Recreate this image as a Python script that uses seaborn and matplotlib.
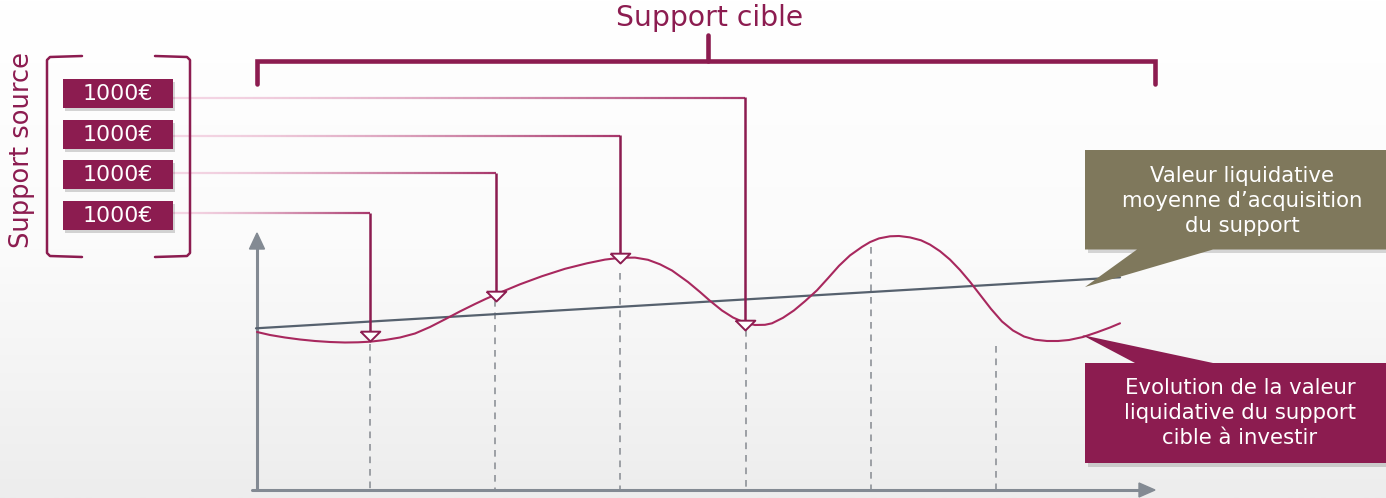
import numpy as np
import pandas as pd
import matplotlib.pyplot as plt
import seaborn as sns
from matplotlib.patches import Rectangle, Polygon
from matplotlib.collections import LineCollection
from matplotlib.colors import LinearSegmentedColormap, to_rgb

# Style
sns.set_theme(style="white")
plt.rcParams['font.family'] = ['DejaVu Sans']

MAGENTA = '#8C1C50'
OLIVE = '#7F785C'
AXIS_GREY = '#838A93'
LINE_GREY = '#56616E'

# Data (pixel space of the slide, y grows downward)
curve_x = [257, 270, 285, 300, 315, 330, 345, 358, 370, 385, 400, 415, 430, 446,
           460, 475, 486, 502, 520, 542, 565, 587, 605, 620, 635, 648, 660, 672,
           688, 700, 710, 722, 733, 745, 755, 765, 772, 783, 794, 805, 817, 828,
           839, 850, 862, 870, 879, 890, 899, 910, 921, 930, 940, 950, 960, 970,
           980, 991, 1002, 1013, 1024, 1035, 1047, 1058, 1069, 1083, 1097, 1110, 1120]
curve_y = [332, 335, 337.5, 339.5, 341, 342, 342.5, 342.3, 341.7, 340, 337.5, 333.5,
           327, 318.8, 311.4, 304, 298.8, 291.8, 284.3, 276.2, 268.8, 263.3, 259.6, 257.8,
           257.6, 259.8, 264.3, 270.5, 282, 292, 300.8, 310.5, 317.5, 322.8, 325, 324.8,
           323.3, 317.8, 310.4, 301.2, 290.3, 278.2, 265.8, 255.4, 246.9, 242.1, 238.4, 236.3,
           236, 237.4, 240.3, 244.6, 251.2, 259.6, 270, 281.8, 294.7, 308.9, 321.5, 330.5, 336.5,
           339.7, 341, 341, 340, 337, 332.3, 327.5, 323.3]
avg_x = [256, 1120]
avg_y = [328.3, 277.3]

amounts = ["1000€", "1000€", "1000€", "1000€"]
box_y = [93.5, 134.3, 174.7, 215.8]
row_y = [97.7, 135.7, 173.3, 213.3]
buy_x = [745, 620, 496, 370]
buy_y = [330, 263, 301, 341]

guide_x = [370, 495, 620, 746, 871, 996]
guide_top = [344, 300, 273, 330, 247, 346]

title_cible = "Support cible"
title_source = "Support source"
label_avg = "Valeur liquidative\nmoyenne d\u2019acquisition\ndu support"
label_curve = "Evolution de la valeur\nliquidative du support\ncible à investir"

# Figure
fig = plt.figure(figsize=(13.86, 4.98), dpi=100)
ax = fig.add_axes([0, 0, 1, 1])
ax.set_xlim(0, 1386)
ax.set_ylim(498, 0)
ax.axis('off')

# soft grey background gradient
bg = LinearSegmentedColormap.from_list('bg', ['#FFFFFF', '#FBFBFB', '#EDEDED'])
ax.imshow(np.linspace(0, 1, 256)[:, None], extent=[0, 1386, 498, 0],
          cmap=bg, aspect='auto', zorder=0)

# axes arrows
ax.plot([257, 257], [490, 248], color=AXIS_GREY, lw=2.2, zorder=2)
ax.add_patch(Polygon([[249.5, 249], [264.5, 249], [257, 233]], color=AXIS_GREY, zorder=2))
ax.plot([252, 1140], [490, 490], color=AXIS_GREY, lw=2.2, zorder=2)
ax.add_patch(Polygon([[1139, 483], [1139, 497], [1155, 490]], color=AXIS_GREY, zorder=2))

# dashed guides
ax.vlines(guide_x, guide_top, 489, colors='#8E9298', lw=1.2,
          linestyles=(0, (4, 3.5)), zorder=2)

# average acquisition value and NAV curve
df_curve = pd.DataFrame({'x': curve_x, 'y': curve_y})
df_avg = pd.DataFrame({'x': avg_x, 'y': avg_y})
sns.lineplot(data=df_avg, x='x', y='y', color=LINE_GREY, lw=1.6, ax=ax,
             sort=False, estimator=None, zorder=3)
sns.lineplot(data=df_curve, x='x', y='y', color='#A8285E', lw=1.5, ax=ax,
             sort=False, estimator=None, zorder=4, solid_joinstyle='round')
ax.set_xlim(0, 1386)
ax.set_ylim(498, 0)
ax.set_xlabel('')
ax.set_ylabel('')

# source boxes
for yc, txt in zip(box_y, amounts):
    ax.add_patch(Rectangle((65, yc - 14.5 + 3), 110, 29, color='#000000', alpha=0.16, zorder=4, lw=0))
    ax.add_patch(Rectangle((63, yc - 14.5), 110, 29, color=MAGENTA, zorder=5, lw=0))
    ax.text(118, yc + 0.5, txt, color='white', fontsize=15.8, ha='center', va='center', zorder=6)

# connector lines with a pink gradient, then vertical arrows
light = np.array(to_rgb('#F4D6E4'))
dark = np.array(to_rgb('#A8386C'))
for ry, bx, by in zip(row_y, buy_x, buy_y):
    xs = np.linspace(173, bx, 80)
    segs = [[(xs[i], ry), (xs[i + 1], ry)] for i in range(len(xs) - 1)]
    t = np.linspace(0, 1, len(segs)) ** 1.6
    cols = [tuple(light + (dark - light) * k) for k in t]
    ax.add_collection(LineCollection(segs, colors=cols, lw=1.6, zorder=3))
    ax.plot([bx, bx], [ry - 0.8, by - 9], color=MAGENTA, lw=1.8, zorder=5,
            solid_capstyle='butt')

tri = [(-1, 1), (1, 1), (0, 0), (-1, 1)]
df_buy = pd.DataFrame({'x': buy_x, 'y': buy_y})
sns.scatterplot(data=df_buy, x='x', y='y', marker=tri, s=200, facecolor='white',
                edgecolor=MAGENTA, linewidth=1.4, ax=ax, zorder=6)
ax.set_xlabel('')
ax.set_ylabel('')

# "Support cible" bracket
ax.plot([257, 257, 1155, 1155], [84, 60.5, 60.5, 84], color=MAGENTA, lw=3.3,
        solid_joinstyle='miter', zorder=5)
ax.plot([708, 708], [60.5, 35], color=MAGENTA, lw=3.3, solid_capstyle='round', zorder=5)
ax.text(710, 18, title_cible, color=MAGENTA, fontsize=20.3, ha='center', va='center')

# "Support source" brackets
ax.plot([82, 50, 47, 47, 50, 82], [56, 57, 60, 253, 256, 257], color=MAGENTA, lw=1.8, zorder=5)
ax.plot([155, 187, 190, 190, 187, 155], [56, 57, 60, 253, 256, 257], color=MAGENTA, lw=1.8, zorder=5)
ax.text(22, 150, title_source, color=MAGENTA, fontsize=18.5, rotation=90,
        ha='center', va='center')

# callout: average value
ax.add_patch(Polygon([[1088, 154], [1390, 154], [1390, 253], [1088, 253]],
                     color='#000000', alpha=0.15, lw=0, zorder=6))
ax.add_patch(Polygon([[1085, 150], [1386, 150], [1386, 249.5], [1213, 249.5],
                      [1085, 287], [1137, 249.5], [1085, 249.5]],
                     color=OLIVE, lw=0, zorder=7))
ax.text(1242, 201, label_avg, color='white', fontsize=15.3, ha='center',
        va='center', linespacing=1.33, zorder=8)

# callout: NAV evolution
ax.add_patch(Polygon([[1088, 367], [1390, 367], [1390, 467], [1088, 467]],
                     color='#000000', alpha=0.15, lw=0, zorder=6))
ax.add_patch(Polygon([[1085, 363], [1135, 363], [1082, 335], [1213, 363],
                      [1386, 363], [1386, 463], [1085, 463]],
                     color=MAGENTA, lw=0, zorder=7))
ax.text(1240, 413, label_curve, color='white', fontsize=15.3, ha='center',
        va='center', linespacing=1.3, zorder=8)

fig.savefig('out.png', dpi=100)
